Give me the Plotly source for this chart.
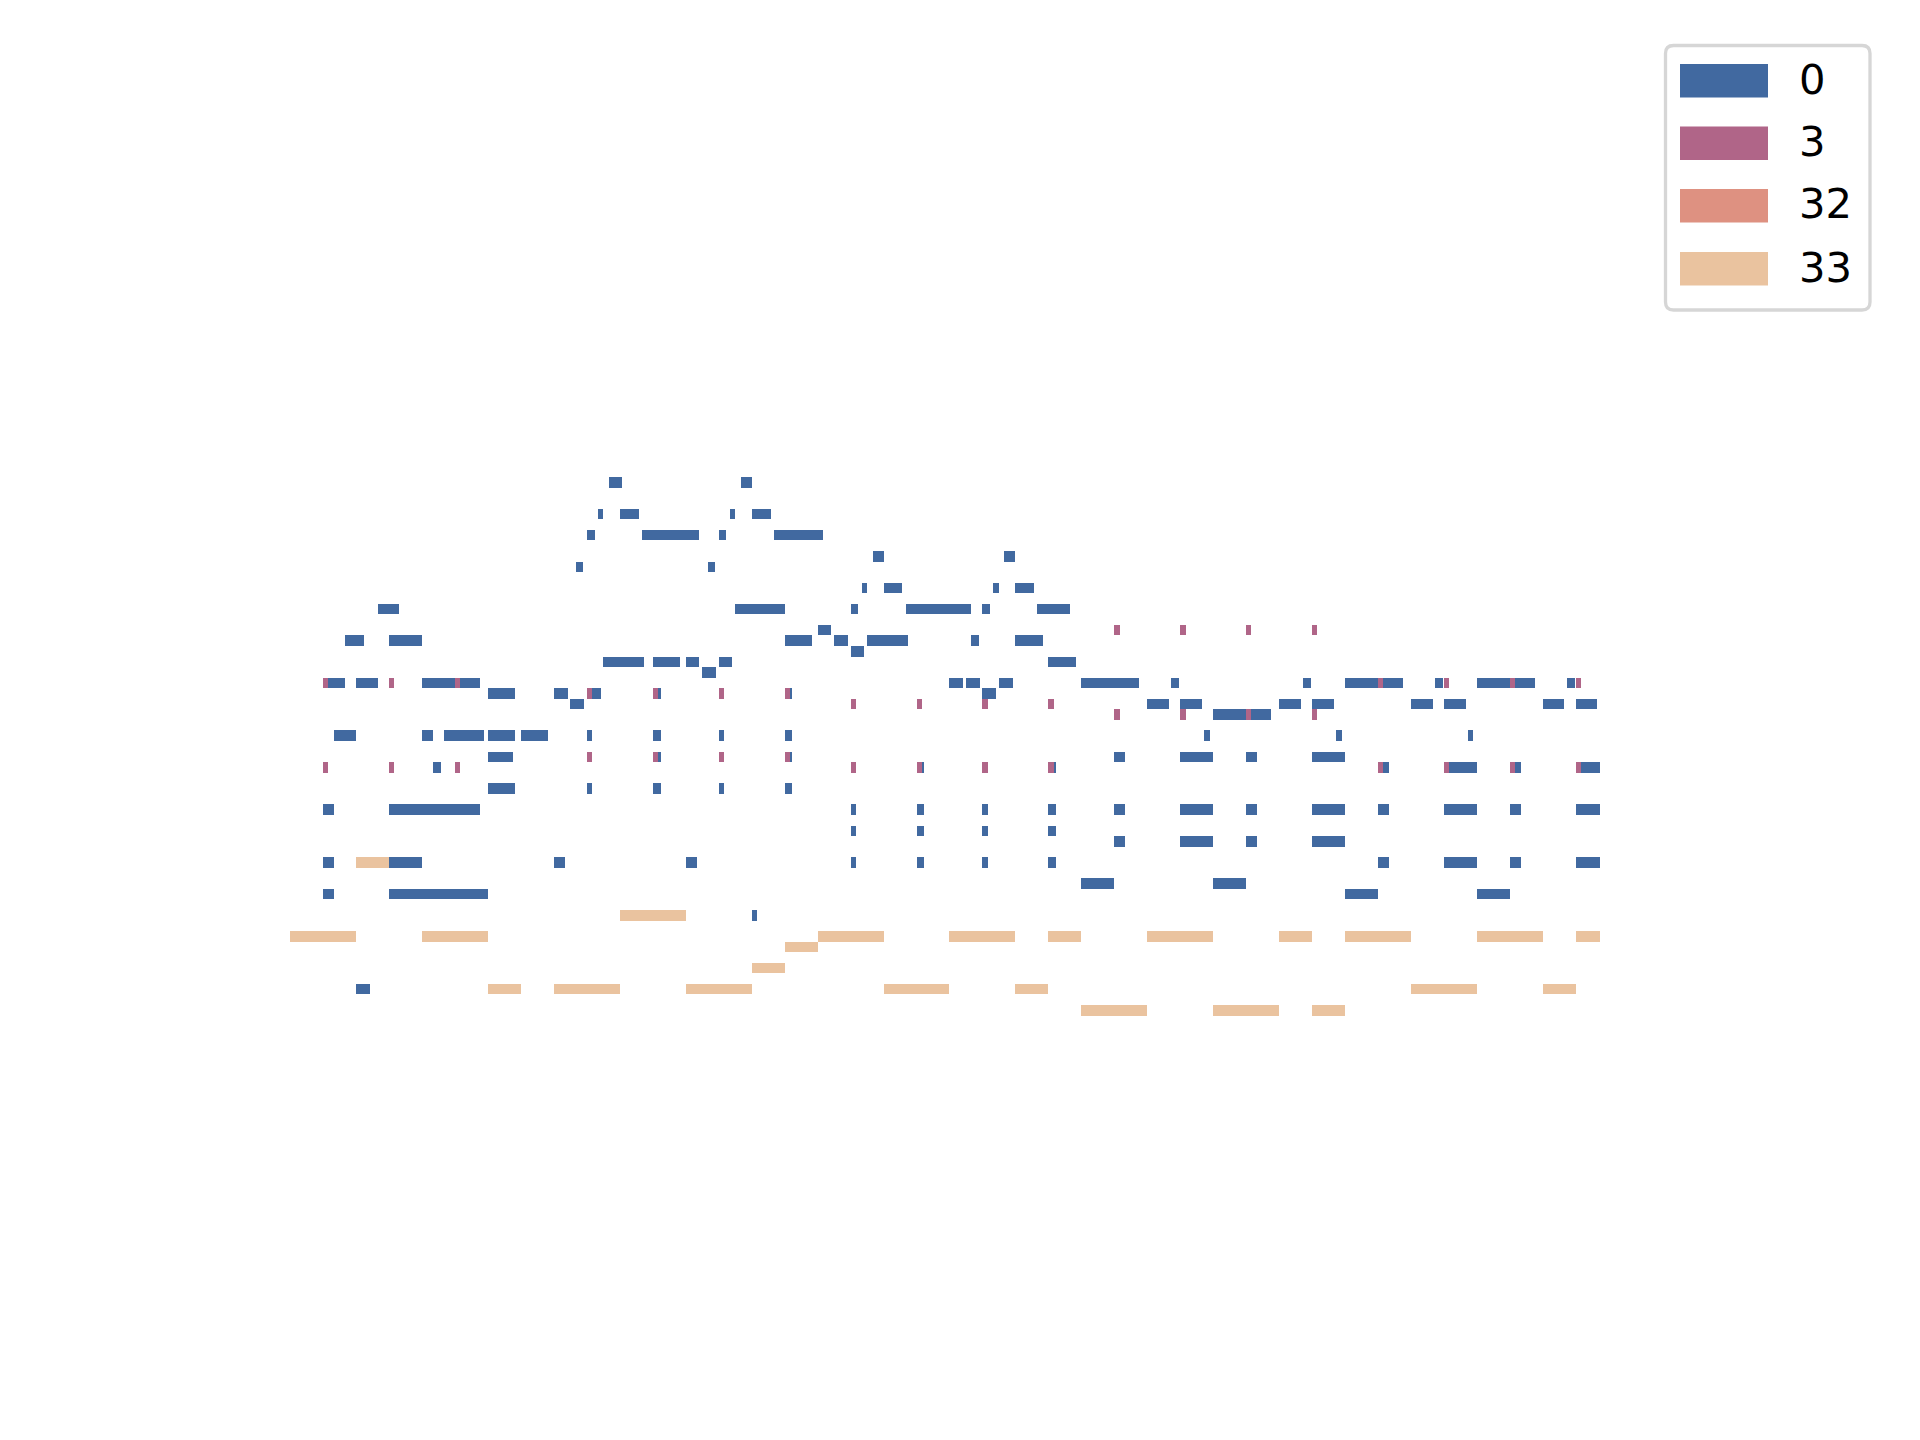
import plotly.graph_objects as go

# ---------------- data: (pitch, start, end) with time in 1/12-beat units ----------------
PROGRAM_0_NOTES = [
    (86, 58, 60.4), (86, 82, 84),
    (83, 56, 57), (83, 60, 63.5), (83, 80, 81), (83, 84, 87.5),
    (81, 54, 55.5), (81, 64, 74.4), (81, 78, 79.3), (81, 88, 97),
    (79, 106, 108), (79, 130, 132),
    (78, 52, 53.3), (78, 76, 77.3),
    (76, 104, 105), (76, 108, 111.4), (76, 128, 129), (76, 132, 135.4),
    (74, 16, 19.8), (74, 81, 90), (74, 102, 103.4), (74, 112, 124), (74, 126, 127.4), (74, 136, 142),
    (72, 96, 98.4),
    (71, 10, 13.5), (71, 18, 24), (71, 90, 95), (71, 99, 101.5), (71, 105, 112.5), (71, 124, 125.4), (71, 132, 137),
    (70, 102, 104.4),
    (69, 57, 64.4), (69, 66, 71), (69, 72, 74.4), (69, 78, 80.4), (69, 138, 143),
    (68, 75, 77.5),
    (67, 6, 10), (67, 12, 16), (67, 24, 30), (67, 30, 34.6), (67, 120, 122.5), (67, 123, 125.6),
    (67, 129, 131.6), (67, 144, 154.5), (67, 160.3, 161.8), (67, 184.3, 185.8), (67, 192, 198),
    (67, 198, 202.5), (67, 208.3, 209.8), (67, 216, 222), (67, 222, 226.5), (67, 232.4, 233.8),
    (66, 36, 40.9), (66, 48, 50.6), (66, 54, 56.6), (66, 66, 67.5), (66, 90, 91.3), (66, 126, 128.5),
    (65, 51, 53.5), (65, 156, 160), (65, 162, 166), (65, 180, 184), (65, 186, 190), (65, 204, 208),
    (65, 210, 214), (65, 228, 231.8), (65, 234, 237.8),
    (64, 168, 174), (64, 174, 178.5),
    (62, 8, 12), (62, 24, 26), (62, 28, 35.3), (62, 36, 40.9), (62, 42, 46.9), (62, 54, 55), (62, 66, 67.5),
    (62, 78, 79), (62, 90, 91.3), (62, 166.3, 167.4), (62, 190.3, 191.4), (62, 214.4, 215.3),
    (60, 36, 40.6), (60, 66, 67.5), (60, 90, 91.3), (60, 150, 152), (60, 162, 168), (60, 174, 176), (60, 186, 192),
    (59, 26, 27.5), (59, 114, 115.4), (59, 138, 139.4), (59, 198, 200), (59, 210, 216), (59, 222, 224), (59, 234, 238.4),
    (57, 36, 40.9), (57, 54, 55), (57, 66, 67.5), (57, 78, 79), (57, 90, 91.3),
    (55, 6, 8), (55, 18, 34.6), (55, 102, 103), (55, 114, 115.4), (55, 126, 127), (55, 138, 139.4),
    (55, 150, 152), (55, 162, 168), (55, 174, 176), (55, 186, 192), (55, 198, 200), (55, 210, 216),
    (55, 222, 224), (55, 234, 238.4),
    (53, 102, 103), (53, 114, 115.4), (53, 126, 127), (53, 138, 139.4),
    (52, 150, 152), (52, 162, 168), (52, 174, 176), (52, 186, 192),
    (50, 6, 8), (50, 18, 24), (50, 48, 50), (50, 72, 74.1), (50, 102, 103), (50, 114, 115.4), (50, 126, 127),
    (50, 138, 139.4), (50, 198, 200), (50, 210, 216), (50, 222, 224), (50, 234, 238.4),
    (48, 144, 150), (48, 168, 174),
    (47, 6, 8), (47, 18, 36), (47, 192, 198), (47, 216, 222),
    (45, 84, 85),
    (38, 12, 14.6),
]

PROGRAM_3_PITCHES = [72, 67, 66, 65, 64, 60, 59]
PROGRAM_3_ONSETS = [
    [150, 162, 174, 186],
    [6, 18, 30, 198, 210, 222, 234],
    [54, 66, 78, 90],
    [102, 114, 126, 138],
    [150, 162, 174, 186],
    [54, 66, 78, 90],
    [6, 18, 30, 102, 114, 126, 138, 198, 210, 222, 234],
]
PROGRAM_3_DURATION = 0.95

PROGRAM_32_NOTES = []

PROGRAM_33_NOTES = [
    (50, 12, 18), (45, 60, 72),
    (43, 0, 12), (43, 24, 36), (43, 96, 108), (43, 120, 132), (43, 138, 144), (43, 156, 168),
    (43, 180, 186), (43, 192, 204), (43, 216, 228), (43, 234, 238.4),
    (42, 90, 96), (40, 84, 90),
    (38, 36, 42), (38, 48, 60), (38, 72, 84), (38, 108, 120), (38, 132, 138), (38, 204, 216), (38, 228, 234),
    (36, 144, 156), (36, 168, 180), (36, 186, 192),
]

PROGRAM_LABELS = ["0", "3", "32", "33"]
PROGRAM_COLORS = ["#4169a0", "#b06588", "#de9181", "#eac39f"]

# ---------------- build ----------------
program_3_notes = [(p, s, s + PROGRAM_3_DURATION)
                   for p, onsets in zip(PROGRAM_3_PITCHES, PROGRAM_3_ONSETS) for s in onsets]
all_programs = [PROGRAM_0_NOTES, program_3_notes, PROGRAM_32_NOTES, PROGRAM_33_NOTES]

W, H = 1920, 1440
fig = go.Figure()
for notes, label, color in zip(all_programs, PROGRAM_LABELS, PROGRAM_COLORS):
    fig.add_trace(go.Bar(
        orientation="h",
        y=[n[0] for n in notes],
        x=[n[2] - n[1] for n in notes],
        base=[n[1] for n in notes],
        width=1.0,
        name=label,
        marker=dict(color=color, line=dict(width=0), opacity=1),
        showlegend=False,
        hoverinfo="skip",
    ))

# axis scaling (pixels per unit) chosen to match the reference framing
px_per_t = 5.4956
px_per_pitch = 10.56
x0_px = 290.0
xa = -x0_px / px_per_t
xb = xa + W / px_per_t
lowest_center_px = 1010.3
yd = 36 + lowest_center_px / px_per_pitch
yc = yd - H / px_per_pitch

# ---------------- legend drawn as a matplotlib-like box ----------------
def PX(x):
    return x / W

def PY(y):
    return 1 - y / H

bx0, bx1, by0, by1, r = 1665.5, 1870.0, 45.5, 310.0, 8.0
path = (f"M {PX(bx0 + r)} {PY(by0)} L {PX(bx1 - r)} {PY(by0)} "
        f"Q {PX(bx1)} {PY(by0)} {PX(bx1)} {PY(by0 + r)} "
        f"L {PX(bx1)} {PY(by1 - r)} Q {PX(bx1)} {PY(by1)} {PX(bx1 - r)} {PY(by1)} "
        f"L {PX(bx0 + r)} {PY(by1)} Q {PX(bx0)} {PY(by1)} {PX(bx0)} {PY(by1 - r)} "
        f"L {PX(bx0)} {PY(by0 + r)} Q {PX(bx0)} {PY(by0)} {PX(bx0 + r)} {PY(by0)} Z")
shapes = [dict(type="path", xref="paper", yref="paper", path=path,
               line=dict(color="#d6d6d6", width=3.3), fillcolor="rgba(255,255,255,0.8)", layer="above")]
annotations = []
row_tops = [64, 126.5, 189, 252]
for top, label, color in zip(row_tops, PROGRAM_LABELS, PROGRAM_COLORS):
    shapes.append(dict(type="rect", xref="paper", yref="paper",
                       x0=PX(1680), x1=PX(1768), y0=PY(top), y1=PY(top + 33.5),
                       fillcolor=color, line=dict(width=0), layer="above"))
    annotations.append(dict(xref="paper", yref="paper", x=PX(1797), y=PY(top + 15),
                            text=label, showarrow=False, xanchor="left", yanchor="middle",
                            font=dict(family="DejaVu Sans", size=41.7, color="black")))

fig.update_layout(
    width=W, height=H,
    margin=dict(l=0, r=0, t=0, b=0),
    paper_bgcolor="white", plot_bgcolor="white",
    barmode="overlay", bargap=0,
    showlegend=False,
    xaxis=dict(range=[xa, xb], visible=False, showgrid=False, zeroline=False),
    yaxis=dict(range=[yc, yd], visible=False, showgrid=False, zeroline=False),
    shapes=shapes, annotations=annotations,
)

fig.write_html("out.html")
